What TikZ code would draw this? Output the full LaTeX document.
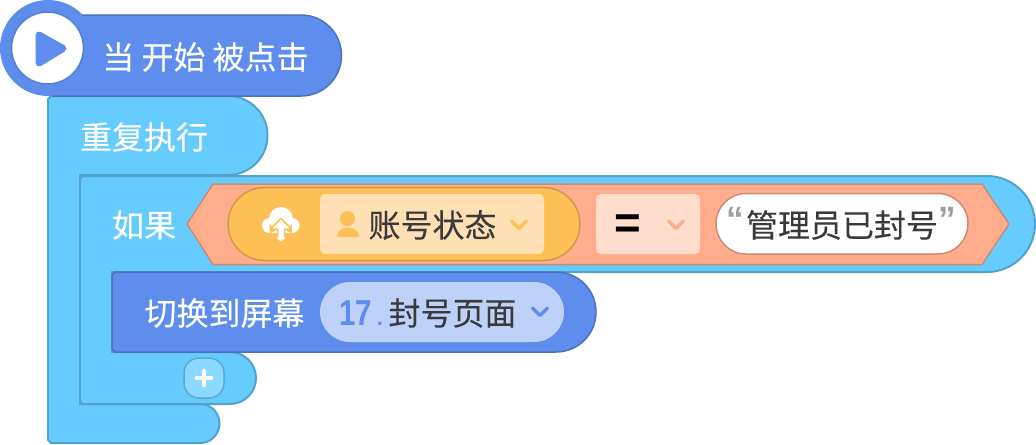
\documentclass[tikz,border=0pt]{standalone}
\usepackage{fontspec}
\newfontfamily\cjk[FakeBold=0.15]{Noto Sans CJK SC}
\newfontfamily\latinb{Liberation Sans}
\usetikzlibrary{calc}
\definecolor{blockblue}{HTML}{5E8DEE}
\definecolor{edgeblue}{HTML}{4A70BE}
\definecolor{blockcyan}{HTML}{66CCFF}
\definecolor{edgecyan}{HTML}{52A3CC}
\definecolor{condorange}{HTML}{FFAD8C}
\definecolor{edgeorange}{HTML}{CC8A70}
\definecolor{pillyellow}{HTML}{FFBF57}
\definecolor{edgeyellow}{HTML}{CC9946}
\definecolor{boxyellow}{HTML}{FFE0B5}
\definecolor{boxorange}{HTML}{FFDDCC}
\definecolor{pillblue}{HTML}{BED1F9}
\definecolor{inktext}{HTML}{3A3A3A}
\tikzset{
  blueblock/.style={fill=blockblue, draw=edgeblue, line width=0.03cm},
  cyanblock/.style={fill=blockcyan, draw=edgecyan, line width=0.04cm},
  whitelabel/.style={text=white, inner sep=0pt, font=\cjk\fontsize{18.2}{22}\selectfont},
  darklabel/.style={text=inktext, inner sep=0pt, font=\cjk\fontsize{18.2}{22}\selectfont},
  quotemark/.style={text=gray!75, inner sep=0pt, font=\latinb\bfseries\fontsize{20}{20}\selectfont},
  chevron/.style={line width=0.07cm, line cap=round, line join=round},
}
\begin{document}
\begin{tikzpicture}[x=0.02cm, y=-0.02cm]
        \useasboundingbox (0,0) rectangle (1036,444);

        % Forever block
        \draw[cyanblock] (48,100) -- (48,99) -- (51,96) -- (228,96) arc[start angle=-90, end angle=90, radius=39.5]
            -- (80,175) -- (80,404) -- (200,404) arc[start angle=-90, end angle=90, radius=19.5]
            -- (51,443) -- (48,440) -- cycle;

        % If block
        \draw[cyanblock] (80,179) -- (83,176) -- (987,176) arc[start angle=-90, end angle=90, radius=48]
            -- (112,272) -- (112,352) -- (230,352) arc[start angle=-90, end angle=90, radius=26]
            -- (83,404) -- (80,401) -- cycle;
        \draw[fill=blockcyan!75!white, draw=edgecyan!80!blockcyan, line width=0.03cm, rounded corners=0.3cm]
            (184,358) rectangle (224,398);
        \draw[white, line width=0.09cm, line cap=round] (197,378) -- (211,378) (204,371) -- (204,385);

        % Start block
        \fill[blockblue] (48,48) circle[radius=48];
        \draw[blueblock] (82,15) -- (301,15) arc[start angle=-90, end angle=90, radius=40.5] -- (52,96);
        \fill[blockblue] (60,17) rectangle (300,94.5);
        \draw[fill=white, draw=edgeblue!50!blockblue, line width=0.03cm] (47.5,48) circle[radius=36];
        \fill[blockblue, draw=blockblue, line width=0.14cm, line join=round] (39,35) -- (63,48.5) -- (39,63) -- cycle;
        \node[whitelabel] (start) at (205.5,57) {当 开始 被点击};

        % Labels of the C blocks
        \node[whitelabel] (forever) at (144,137) {重复执行};
        \node[whitelabel] (ifword) at (144,225) {如果};

        % Condition
        \draw[fill=condorange, draw=edgeorange, line width=0.03cm, line join=round]
            (187,224) -- (213,184) -- (982,184) -- (1009,224) -- (982,264.5) -- (213,264.5) -- cycle;
        \draw[fill=pillyellow, draw=edgeyellow, line width=0.03cm, rounded corners=0.73cm]
            (228,187.5) rectangle (580,260.5);
        % Cloud icon
        \fill[white] (281,219) circle[radius=12] (269.5,225.5) circle[radius=7.5] (292,225.5) circle[radius=7.5]
            (269.5,222) rectangle (292,233);
        \draw[fill=white, draw=pillyellow, line width=0.03cm, line join=round]
            (281,218.5) -- (291.5,229) -- (284.5,229) -- (284.5,236.5) -- (288,236.5) -- (281,243) -- (274,236.5)
            -- (277.5,236.5) -- (277.5,229) -- (270.5,229) -- cycle;
        % Variable box
        \fill[boxyellow, rounded corners=0.1cm] (320,194) rectangle (544,254);
        \fill[pillyellow] (347.5,218.5) circle[radius=7.5];
        \fill[pillyellow] (337,237) .. controls (337,231) and (342,227.5) .. (348,227.5)
            .. controls (354,227.5) and (359,231) .. (359,237) -- cycle;
        \node[darklabel] (status) at (432.5,225) {账号状态};
        \coordinate (yellowmid) at (519,225);
        \draw[pillyellow, chevron] ($(yellowmid)+(-7.5,-4)$) -- ($(yellowmid)+(0,3.5)$) -- ($(yellowmid)+(7.5,-4)$);
        % Operator box
        \fill[boxorange, rounded corners=0.1cm] (596,194) rectangle (700,254);
        \node[inner sep=0pt, font=\latinb\bfseries\fontsize{26}{26}\selectfont] (equal) at (628,227) {=};
        \coordinate (orangemid) at (676,225);
        \draw[condorange, chevron] ($(orangemid)+(-7.5,-4)$) -- ($(orangemid)+(0,3.5)$) -- ($(orangemid)+(7.5,-4)$);
        % Text value
        \draw[fill=white, draw=edgeorange, line width=0.03cm, rounded corners=0.6cm]
            (716,193.5) rectangle (968,254);
        \node[quotemark] (openq) at (735,219) {“};
        \node[darklabel] (banned) at (842,225) {管理员已封号};
        \node[quotemark] (closeq) at (947,219) {”};

        % Switch screen block
        \draw[blueblock] (112,275) -- (115,272) -- (556,272) arc[start angle=-90, end angle=90, radius=40]
            -- (115,352) -- (112,349) -- cycle;
        \node[whitelabel] (switch) at (224.5,313) {切换到屏幕};
        \fill[pillblue, rounded corners=0.6cm] (320,282) rectangle (564,342);
        \node[text=blockblue, inner sep=0pt, font=\latinb\bfseries\fontsize{20.5}{22}\selectfont] (number) at (361,313)
            {\scalebox{0.82}[1]{17}\hspace{0.1cm}\scalebox{0.6}{.}};
        \node[darklabel] (page) at (452.5,313) {封号页面};
        \coordinate (bluemid) at (540,312);
        \draw[blockblue, chevron] ($(bluemid)+(-7.5,-4)$) -- ($(bluemid)+(0,3.5)$) -- ($(bluemid)+(7.5,-4)$);
    \end{tikzpicture}
\end{document}
